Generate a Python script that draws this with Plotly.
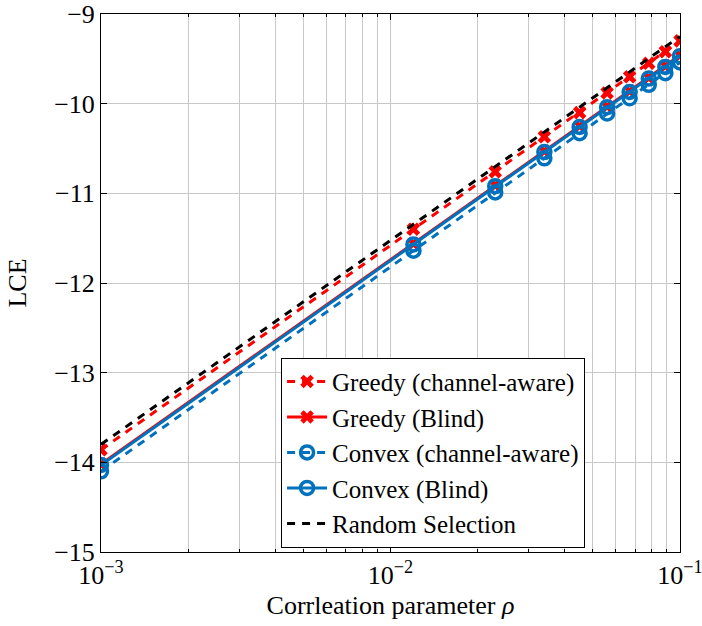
import plotly.graph_objects as go

rho = [0.001, 0.012, 0.023, 0.034, 0.045, 0.056, 0.067, 0.078, 0.089, 0.1]

greedy_aware = [-13.86, -11.40, -10.76, -10.37, -10.10, -9.88, -9.70, -9.55, -9.42, -9.30]
greedy_blind = [-14.02, -11.56, -10.91, -10.53, -10.25, -10.03, -9.86, -9.71, -9.58, -9.46]
convex_aware = [-14.10, -11.64, -10.99, -10.61, -10.33, -10.11, -9.94, -9.79, -9.66, -9.54]
convex_blind = [-14.03, -11.57, -10.92, -10.54, -10.26, -10.04, -9.87, -9.72, -9.59, -9.47]
random_sel = [-13.80, -11.34, -10.70, -10.31, -10.04, -9.82, -9.64, -9.49, -9.36, -9.25]

x_tickvals = [0.001, 0.01, 0.1]
x_ticktext = ["10<sup>−3</sup>", "10<sup>−2</sup>", "10<sup>−1</sup>"]

RED = "#ff0000"
BLUE = "#0072bd"
DASH = "8px,7px"
FONT = "Liberation Serif, serif"
FS = 26
LFS = 25

fig = go.Figure()
fig.add_trace(go.Scatter(x=rho, y=greedy_aware, name="Greedy (channel-aware)", mode="lines+markers",
                         line=dict(color=RED, width=3, dash=DASH),
                         marker=dict(symbol="x", size=12, color=RED, line=dict(width=0))))
fig.add_trace(go.Scatter(x=rho, y=greedy_blind, name="Greedy (Blind)", mode="lines+markers",
                         line=dict(color=RED, width=3),
                         marker=dict(symbol="x", size=12, color=RED, line=dict(width=0))))
fig.add_trace(go.Scatter(x=rho, y=convex_aware, name="Convex (channel-aware)", mode="lines+markers",
                         line=dict(color=BLUE, width=3, dash=DASH),
                         marker=dict(symbol="circle-open", size=13, color=BLUE, line=dict(width=3.5, color=BLUE))))
fig.add_trace(go.Scatter(x=rho, y=convex_blind, name="Convex (Blind)", mode="lines+markers",
                         line=dict(color=BLUE, width=3),
                         marker=dict(symbol="circle-open", size=13, color=BLUE, line=dict(width=3.5, color=BLUE))))
fig.add_trace(go.Scatter(x=rho, y=random_sel, name="Random Selection", mode="lines",
                         line=dict(color="black", width=3, dash=DASH)))

minor_vals = [k * 10 ** e for e in (-3, -2) for k in range(2, 10)]

fig.update_xaxes(type="log", range=[-3, -1], tickmode="array", tickvals=x_tickvals, ticktext=x_ticktext,
                 automargin=False, ticklabeloverflow="allow",
                 showgrid=True, gridcolor="#c8c8c8", gridwidth=1,
                 ticks="inside", ticklen=6, tickcolor="black",
                 minor=dict(tickmode="array", tickvals=minor_vals, showgrid=True,
                            gridcolor="#c8c8c8", ticks="inside", ticklen=3, tickcolor="black"),
                 showline=True, linecolor="black", linewidth=1, mirror="ticks",
                 zeroline=False, tickfont=dict(family=FONT, size=FS, color="black"),
                 title=dict(text="Corrleation parameter <i>ρ</i>", font=dict(family=FONT, size=FS, color="black"),
                            standoff=6))
fig.update_yaxes(range=[-15, -9], dtick=1, tick0=-15, automargin=False, ticklabeloverflow="allow",
                 showgrid=True, gridcolor="#c8c8c8", gridwidth=1,
                 ticks="inside", ticklen=6, tickcolor="black",
                 showline=True, linecolor="black", linewidth=1, mirror="ticks",
                 zeroline=False, tickfont=dict(family=FONT, size=FS, color="black"),
                 title=dict(text="LCE", font=dict(family=FONT, size=FS, color="black"), standoff=20))

fig.update_layout(width=702, height=626, margin=dict(l=101, r=22, t=14, b=74),
                  plot_bgcolor="white", paper_bgcolor="white",
                  font=dict(family=FONT, size=FS, color="black"),
                  legend=dict(x=0.311, y=0.008, xanchor="left", yanchor="bottom",
                              bgcolor="white", bordercolor="black", borderwidth=1,
                              font=dict(family=FONT, size=LFS, color="black"),
                              tracegroupgap=0, itemwidth=40))

fig.write_html("out.html")
